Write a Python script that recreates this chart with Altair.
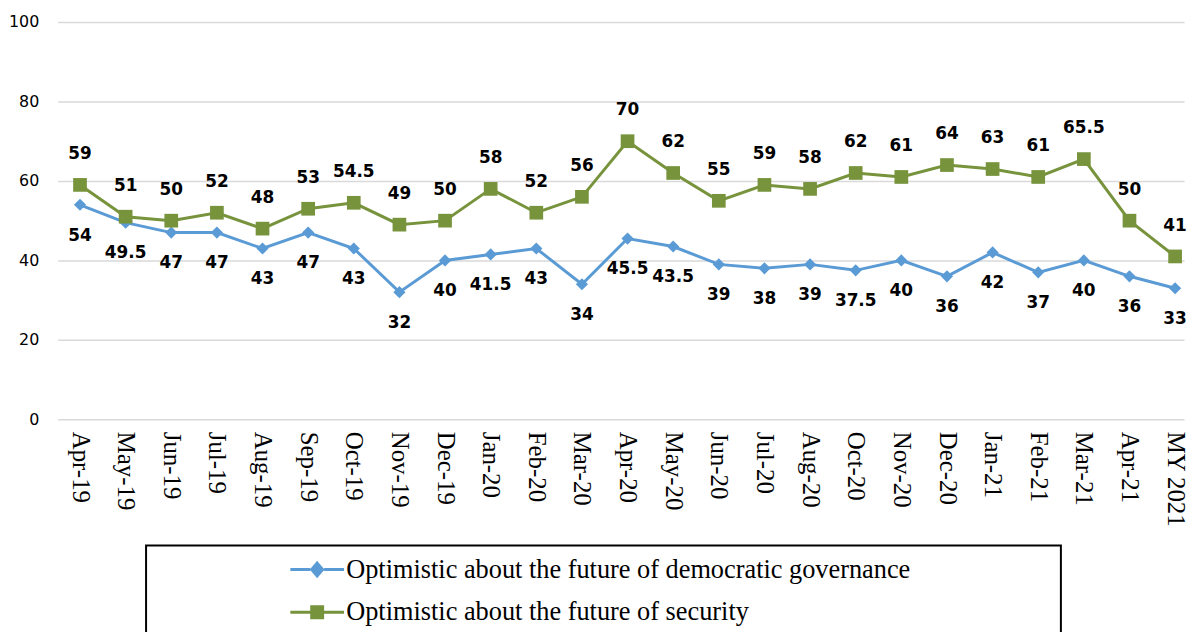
import altair as alt
import pandas as pd

months = ["Apr-19", "May-19", "Jun-19", "Jul-19", "Aug-19", "Sep-19", "Oct-19", "Nov-19",
          "Dec-19", "Jan-20", "Feb-20", "Mar-20", "Apr-20", "May-20", "Jun-20", "Jul-20",
          "Aug-20", "Oct-20", "Nov-20", "Dec-20", "Jan-21", "Feb-21", "Mar-21", "Apr-21",
          "MY 2021"]
governance = [54, 49.5, 47, 47, 43, 47, 43, 32, 40, 41.5, 43, 34, 45.5, 43.5, 39, 38, 39,
              37.5, 40, 36, 42, 37, 40, 36, 33]
security = [59, 51, 50, 52, 48, 53, 54.5, 49, 50, 58, 52, 56, 70, 62, 55, 59, 58, 62, 61,
            64, 63, 61, 65.5, 50, 41]
series_names = ["Optimistic about the future of democratic governance",
                "Optimistic about the future of security"]
colors = ["#5B9BD5", "#77933C"]

rows = []
for i, m in enumerate(months):
    rows.append({"month": m, "series": series_names[0], "value": governance[i]})
    rows.append({"month": m, "series": series_names[1], "value": security[i]})
df = pd.DataFrame(rows)

x = alt.X("month:N", sort=months,
          scale=alt.Scale(type="point", padding=0.3429, align=0.714),
          axis=alt.Axis(title=None, labelAngle=90, labelFont="Liberation Serif",
                        labelFontSize=25, labelColor="black", labelPadding=12,
                        labelAlign="left", labelBaseline="middle",
                        domain=False, ticks=False, grid=False, labelLimit=300))
y = alt.Y("value:Q", scale=alt.Scale(domain=[0, 100]),
          axis=alt.Axis(title=None, values=[0, 20, 40, 60, 80, 100],
                        labelFont="DejaVu Sans", labelFontSize=16, labelColor="black",
                        labelPadding=19, domain=False, ticks=False,
                        gridColor="#d9d9d9", gridWidth=1.5))

base = alt.Chart(df).encode(x=x, y=y)
gov = base.transform_filter(alt.datum.series == series_names[0])
sec = base.transform_filter(alt.datum.series == series_names[1])

gov_line = gov.mark_line(color=colors[0], strokeWidth=3)
sec_line = sec.mark_line(color=colors[1], strokeWidth=3)
gov_pts = gov.mark_point(shape="diamond", filled=True, opacity=1, size=150, color=colors[0])
sec_pts = sec.mark_point(shape="square", filled=True, opacity=1, size=190, color=colors[1])
gov_txt = gov.mark_text(font="DejaVu Sans", fontWeight="bold", fontSize=17, dy=31,
                        color="black").encode(text=alt.Text("value:Q"))
sec_txt = sec.mark_text(font="DejaVu Sans", fontWeight="bold", fontSize=17, dy=-31,
                        color="black").encode(text=alt.Text("value:Q"))

diamond_path = ("M-2.7,0H-0.7M0.7,0H2.7"
                "M0,-0.65L0.55,0L0,0.65L-0.55,0Z"
                "M0,-0.38L0.32,0L0,0.38L-0.32,0Z"
                "M0,-0.12L0.1,0L0,0.12L-0.1,0Z")
square_path = ("M-2.7,0H-0.7M0.7,0H2.7"
               "M-0.55,-0.55H0.55V0.55H-0.55Z"
               "M-0.26,-0.26H0.26V0.26H-0.26Z"
               "M-0.04,-0.04H0.04V0.04H-0.04Z")

pad = "\u2800" * 7
leg = alt.Legend(orient="none", legendX=89, legendY=527, title="\u00a0", titleOrient="left",
                 titlePadding=148, titleFontSize=10, padding=11, strokeColor="black",
                 fillColor="white", labelFont="Liberation Serif", labelFontSize=26.5,
                 labelColor="black", labelLimit=2000, symbolSize=400, symbolStrokeWidth=3,
                 symbolOpacity=1, rowPadding=16, labelOffset=16, direction="vertical",
                 labelExpr="datum.label + '" + pad + "'")

legend_layer = base.mark_point(filled=False, opacity=0).encode(
    color=alt.Color("series:N", scale=alt.Scale(domain=series_names, range=colors), legend=leg),
    shape=alt.Shape("series:N", scale=alt.Scale(domain=series_names,
                                                range=[diamond_path, square_path]), legend=leg),
)

chart = alt.layer(gov_line, sec_line, gov_pts, sec_pts, gov_txt, sec_txt, legend_layer).properties(
    width=1134, height=400,
    autosize=alt.AutoSizeParams(type="none"),
    padding={"left": 50, "top": 12, "right": 8, "bottom": 212},
).configure_view(stroke=None).configure_legend(strokeWidth=2)

chart.save("out.html", embed_options={"renderer": "svg", "actions": False})
